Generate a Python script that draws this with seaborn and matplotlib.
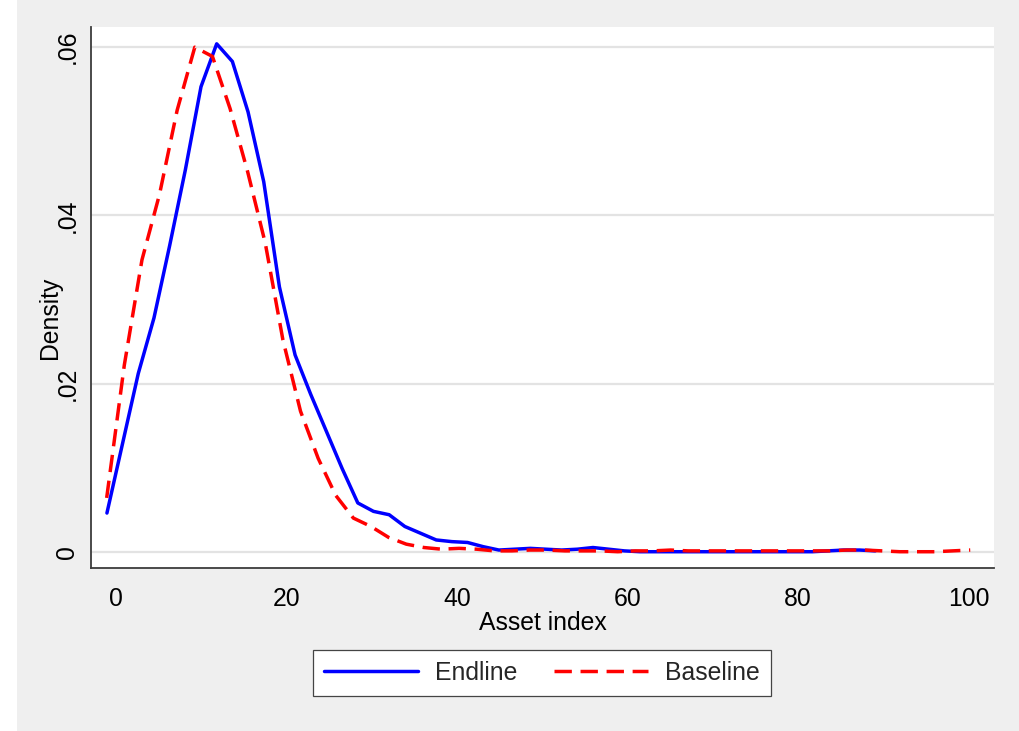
import matplotlib
matplotlib.use("Agg")
import matplotlib.pyplot as plt
from matplotlib.patches import Rectangle
import pandas as pd
import seaborn as sns

# Kernel density estimates of the asset index (evaluation points and densities)
endline_x = [-1.1, 0.74, 2.58, 4.42, 6.26, 8.1, 9.94, 11.78, 13.62, 15.46,
             17.3, 19.14, 20.98, 22.82, 24.66, 26.5, 28.34, 30.18, 32.02, 33.86,
             35.7, 37.54, 39.38, 41.22, 43.06, 44.9, 46.74, 48.58, 50.42, 52.26,
             54.1, 55.94, 57.78, 59.62, 61.46, 63.3, 65.14, 66.98, 68.82, 70.66,
             72.5, 74.34, 76.18, 78.02, 79.86, 81.7, 83.54, 85.38, 87.22, 89.06]
endline_y = [0.0046, 0.0129, 0.0212, 0.0278, 0.0364, 0.0454, 0.0553, 0.0604, 0.0583, 0.0523,
             0.0440, 0.0315, 0.0234, 0.0187, 0.0143, 0.0099, 0.0058, 0.0048, 0.0044, 0.0030,
             0.0022, 0.0014, 0.0012, 0.0011, 0.0006, 0.0002, 0.0003, 0.0004, 0.0003, 0.0002,
             0.0003, 0.0005, 0.0003, 0.0001, 0.0000, 0.0000, 0.0000, 0.0000, 0.0000, 0.0000,
             0.0000, 0.0000, 0.0000, 0.0000, 0.0000, 0.0000, 0.0001, 0.0002, 0.0002, 0.0001]

baseline_x = [-1.13, 0.94, 3.01, 5.07, 7.14, 9.21, 11.28, 13.35, 15.41, 17.48,
              19.55, 21.62, 23.69, 25.75, 27.82, 29.89, 31.96, 34.03, 36.09, 38.16,
              40.23, 42.3, 44.37, 46.43, 48.5, 50.57, 52.64, 54.71, 56.78, 58.84,
              60.91, 62.98, 65.05, 67.12, 69.19, 71.25, 73.32, 75.39, 77.46, 79.53,
              81.6, 83.66, 85.73, 87.8, 89.87, 91.94, 94.01, 96.07, 98.14, 100.21]
baseline_y = [0.0064, 0.0222, 0.0347, 0.0425, 0.0525, 0.0600, 0.0589, 0.0527, 0.0452, 0.0367,
              0.0252, 0.0167, 0.0111, 0.0067, 0.0040, 0.0030, 0.0017, 0.0009, 0.0005, 0.0003,
              0.0004, 0.0003, 0.0001, 0.0001, 0.0002, 0.0002, 0.0001, 0.0001, 0.0001, 0.0000,
              0.0001, 0.0001, 0.0002, 0.0001, 0.0001, 0.0001, 0.0001, 0.0001, 0.0001, 0.0001,
              0.0001, 0.0001, 0.0002, 0.0002, 0.0001, 0.0000, 0.0000, 0.0000, 0.0001, 0.0002]

series_names = ["Endline", "Baseline"]
x_ticks = [0, 20, 40, 60, 80, 100]
y_ticks = [0, 0.02, 0.04, 0.06]
y_tick_labels = ["0", ".02", ".04", ".06"]

endline = pd.DataFrame({"asset": endline_x, "density": endline_y})
baseline = pd.DataFrame({"asset": baseline_x, "density": baseline_y})

sns.set_style("white")
plt.rcParams["font.family"] = ["Liberation Sans", "DejaVu Sans"]

FS = 17.8
W, H = 1019, 731
fig = plt.figure(figsize=(W / 100, H / 100), dpi=100, facecolor="#efefef")
fig.patches.append(Rectangle((0, 0), 17 / W, 1, transform=fig.transFigure,
                             facecolor="white", edgecolor="none", zorder=-1))

left, right, top, bottom = 91, 994, 27, 567.7
ax = fig.add_axes([left / W, 1 - bottom / H, (right - left) / W, (bottom - top) / H])
ax.set_facecolor("white")

sns.lineplot(data=endline, x="asset", y="density", ax=ax, color="#0000ff",
             linewidth=2.5, label=series_names[0], sort=False)
sns.lineplot(data=baseline, x="asset", y="density", ax=ax, color="#ff0000",
             linewidth=2.5, label=series_names[1], sort=False,
             linestyle=(0, (5.0, 2.5)))

ax.set_xlim(-2.97, 103.0)
ax.set_ylim(-0.0019, 0.0624)
ax.set_xticks(x_ticks)
ax.set_xticklabels([str(t) for t in x_ticks])
ax.set_yticks(y_ticks)
ax.set_yticklabels(y_tick_labels, rotation=90, va="center")

ax.yaxis.grid(True, color="#e3e3e3", linewidth=1.6)
ax.xaxis.grid(False)
ax.set_axisbelow(True)

for side in ["top", "right"]:
    ax.spines[side].set_visible(False)
for side in ["left", "bottom"]:
    ax.spines[side].set_color("#3c3c3c")
    ax.spines[side].set_linewidth(1.3)

ax.tick_params(axis="both", which="major", direction="out", length=7.5, width=1.1,
               color="#3c3c3c", labelsize=FS, labelcolor="black")
ax.tick_params(axis="x", pad=6.3)
ax.tick_params(axis="y", pad=0.8)

ax.set_xlabel("Asset index", fontsize=FS, color="black")
ax.set_ylabel("Density", fontsize=FS, color="black")
ax.xaxis.label.set_va("center")
ax.yaxis.label.set_va("center")
ax.xaxis.set_label_coords(0.5006, -(623 - bottom) / (bottom - top))
ax.yaxis.set_label_coords(-(left - 50) / (right - left), (bottom - 318) / (bottom - top))

handles, labels = ax.get_legend_handles_labels()
ax.get_legend().remove()
leg = fig.legend(handles, labels, loc="center", bbox_to_anchor=(542 / W, 1 - 673 / H),
                 ncol=2, fontsize=FS, frameon=True, fancybox=False, shadow=False,
                 handlelength=3.8, handletextpad=0.68, columnspacing=1.5,
                 borderpad=0.45, borderaxespad=0)
leg.get_frame().set_edgecolor("#444444")
leg.get_frame().set_linewidth(0.9)
leg.get_frame().set_facecolor("white")
leg.get_frame().set_alpha(1)

fig.savefig("out.png", dpi=100, facecolor=fig.get_facecolor())
